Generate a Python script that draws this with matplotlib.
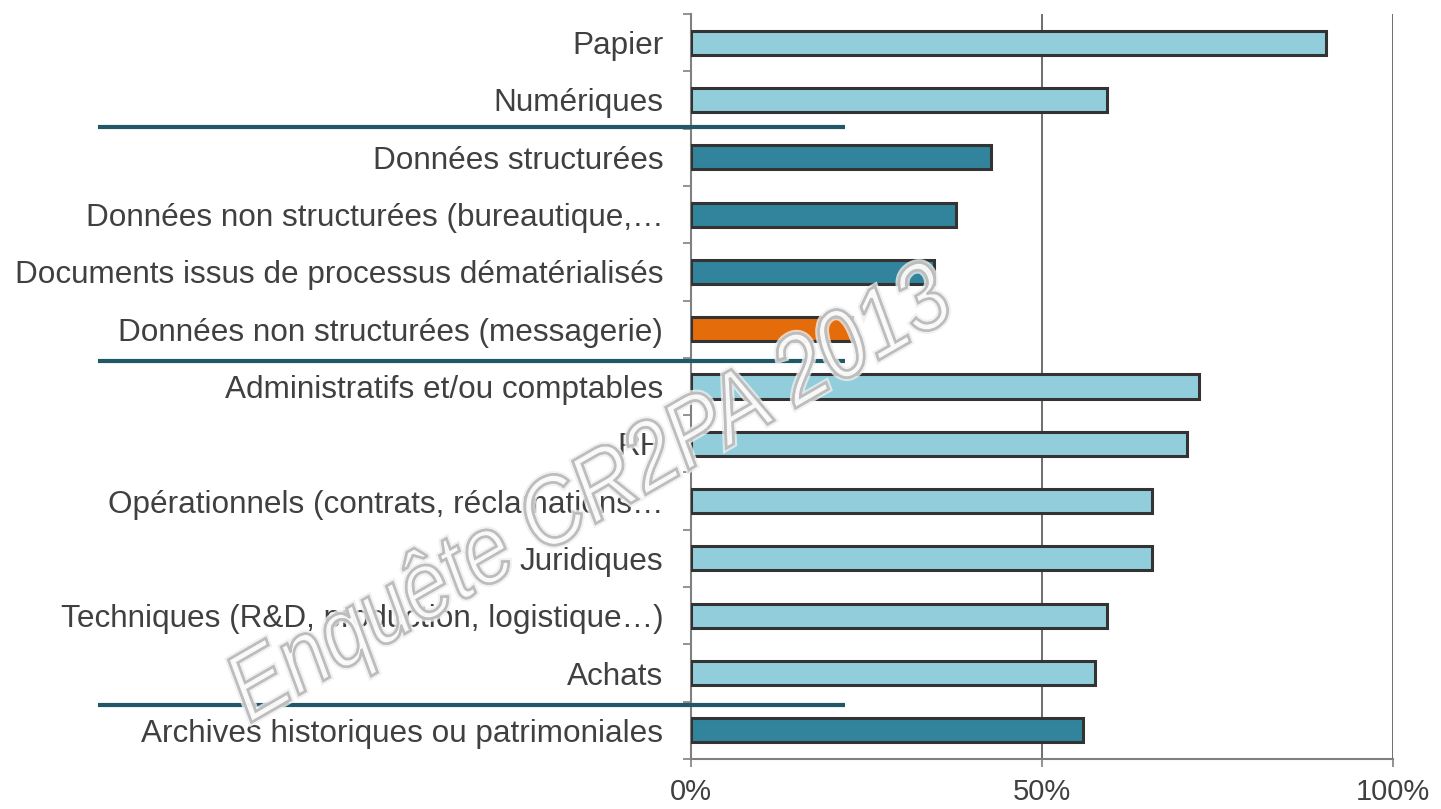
import matplotlib
matplotlib.use("Agg")
import matplotlib.pyplot as plt
import matplotlib.patheffects as pe
from matplotlib.font_manager import FontProperties
from matplotlib.patches import PathPatch
from matplotlib.textpath import TextPath
from matplotlib.transforms import Affine2D
import numpy as np

categories = [
    "Papier",
    "Numériques",
    "Données structurées",
    "Données non structurées (bureautique,…",
    "Documents issus de processus dématérialisés",
    "Données non structurées (messagerie)",
    "Administratifs et/ou comptables",
    "RH",
    "Opérationnels (contrats, réclamations…",
    "Juridiques",
    "Techniques (R&D, production, logistique…)",
    "Achats",
    "Archives historiques ou patrimoniales",
]
values = [90.5, 59.2, 42.8, 37.8, 34.6, 23.0, 72.3, 70.7, 65.7, 65.7, 59.2, 57.5, 55.8]
groups = ["light", "light", "dark", "dark", "dark", "orange",
          "light", "light", "light", "light", "light", "light", "dark"]
separator_rows = [1.47, 5.56, 11.56]  # group dividers, in row units
xticks = [0, 50, 100]
xtick_labels = ["0%", "50%", "100%"]
watermark = "Enquête CR2PA 2013"

COLORS = {"light": "#92CDDC", "dark": "#31849B", "orange": "#E46C0A"}
EDGE = "#333333"
TEXT = "#404040"
AXIS = "#808080"
SEP = "#215868"

plt.rcParams["font.family"] = ["Liberation Sans", "DejaVu Sans"]

W, H = 1441, 809
fig = plt.figure(figsize=(W / 100, H / 100), dpi=100)
ax = fig.add_axes([691 / W, 1 - 759 / H, (1393 - 691) / W, (759 - 14) / H])

n = len(categories)
y = np.arange(n)
ax.barh(y, values, height=0.42, color=[COLORS[g] for g in groups],
        edgecolor=EDGE, linewidth=2.2, zorder=3)

ax.set_ylim(n - 0.5, -0.5)
ax.set_xlim(0, 100)

ax.set_yticks(y)
ax.set_yticklabels(categories, fontsize=22.7, color=TEXT)
ax.set_yticks(np.arange(n + 1) - 0.5, minor=True)
ax.tick_params(axis="y", which="major", length=0, pad=20)
ax.tick_params(axis="y", which="minor", length=6, width=1.2, color=AXIS, direction="out")

ax.set_xticks(xticks)
ax.set_xticklabels(xtick_labels, fontsize=21, color=TEXT)
ax.tick_params(axis="x", length=6, width=1.2, color=AXIS, direction="out", pad=8)

ax.grid(axis="x", color="#555555", linewidth=1.2, zorder=0)
for s in ["top", "right"]:
    ax.spines[s].set_visible(False)
for s in ["left", "bottom"]:
    ax.spines[s].set_color(AXIS)
    ax.spines[s].set_linewidth(1.5)

# group separators extending over the labels
for r in separator_rows:
    ax.plot([-84.5, 21.9], [r, r], color=SEP, linewidth=3,
            clip_on=False, zorder=5, solid_capstyle="butt")

# outlined watermark, slightly condensed, rotated ~30 degrees
tp = TextPath((0, 0), watermark, size=100,
              prop=FontProperties(family="Liberation Sans", style="italic"))
ext = tp.get_extents()
k = 815 / ext.width
trans = (Affine2D()
         .translate(-(ext.x0 + ext.width / 2), -(ext.y0 + ext.height / 2))
         .scale(k, k / 0.88)
         .rotate_deg(30)
         .translate(592, H - 497))
wm = PathPatch(trans.transform_path(tp), transform=None,
               facecolor=(1, 1, 1, 0.4), edgecolor="#bdbdbd", linewidth=1.8,
               zorder=10,
               path_effects=[pe.withStroke(linewidth=5, foreground="#eeeeee", alpha=0.8),
                             pe.Normal()])
fig.add_artist(wm)

fig.savefig("out.png", dpi=100)
